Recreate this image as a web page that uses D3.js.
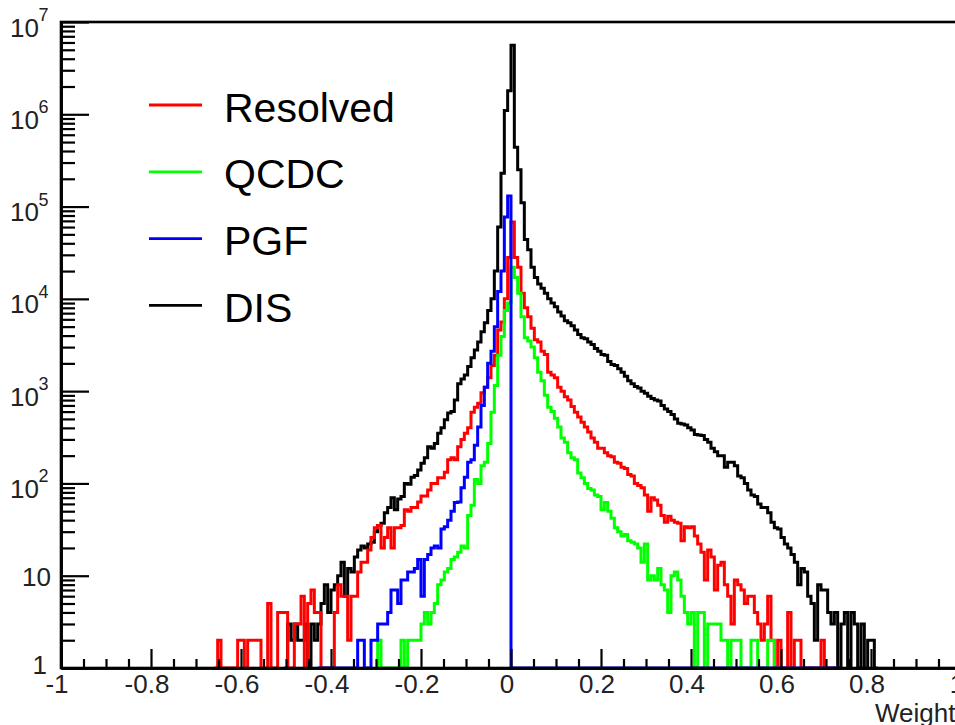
<!DOCTYPE html>
<html><head><meta charset="utf-8">
<script src="https://cdn.jsdelivr.net/npm/d3@7"></script>
<style>body{margin:0;background:#fff}svg{display:block}</style>
</head><body>
<svg id="c" width="955" height="725"></svg>
<script>
// ---------- data ----------
const binStart = -1;
const binWidth = 2 / 270;
const seriesNames = ["Resolved", "QCDC", "PGF", "DIS"];

const disFirstBin = 67;
const disCounts = [1,3,2,3,2,2,3,1,3,2,
 3,5,8,4,7,8,10,14,6,12,
 11,16,19,21,20,22,23,30,35,37,
 48,55,70,52,68,72,100,98,117,122,
 140,165,190,250,240,270,350,400,490,580,
 600,800,1200,1350,1500,1850,2300,2800,3400,4400,
 5500,7500,10000,20000,60000,230000,1100000,1800000,5600000,440000,
 250000,110000,44000,34000,22000,17000,14500,13000,11500,10000,
 9000,8200,7200,6500,5800,5500,5100,4600,4100,3800,
 3700,3400,3200,2900,2700,2500,2450,2100,1950,1900,
 1750,1600,1450,1300,1200,1120,1080,1000,950,880,
 830,800,780,700,640,600,560,500,450,440,
 430,400,380,340,335,330,300,280,240,220,
 200,200,150,170,170,155,120,115,100,85,
 75,72,60,55,55,48,38,33,32,26,
 22,20,17,14,8,12,11,6,5,2,
 8,7,7,4,3,4,0,3,4,0,
 4,3,0,3,0,2,2,1];

const resolvedFirstBin = 46;
const resolvedCounts = [0,2,0,0,0,0,0,2,2,0,
 2,2,2,2,0,0,5,0,0,4,
 4,4,0,0,3,3,6,0,5,7,
 4,4,0,1,0,1,4,8,6,6,
 2,6,6,11,14,14,19,26,33,35,
 20,26,33,20,33,33,35,52,50,55,
 55,63,73,73,85,100,100,115,115,132,
 180,190,180,250,300,350,400,590,670,740,
 960,1100,1400,1900,2450,4600,5600,10000,28000,68000,
 28000,22000,11500,8000,6400,4800,3600,3400,2700,2500,
 1600,1500,1400,1100,1000,870,800,680,590,525,
 460,410,360,310,280,240,240,215,200,195,
 170,165,150,145,125,120,100,95,90,75,
 50,70,66,58,45,38,44,40,38,37,
 24,34,33,34,27,22,18,9,19,16,
 7,13,14,8,6,3,9,8,7,5,
 6,6,4,3,2,3,6,2,0,2,
 0,0,4,0,2,2,0,0,0,0,
 0,0,2,0,0,0,0];

const qcdcFirstBin = 95;
const qcdcCounts = [2,0,0,0,0,0,0,2,0,2,
 2,2,2,3,4,3,4,5,8,9,
 11,12,15,16,18,21,20,45,58,110,
 100,155,170,270,590,1150,2450,3900,7500,9000,
 22000,17000,11500,6400,3800,3500,3000,2300,1600,1300,
 900,670,600,510,410,310,280,215,190,180,
 130,115,100,88,85,75,72,52,62,50,
 42,33,30,27,28,24,23,22,20,14,
 22,9,10,9,12,8,7,4,10,11,
 9,6,4,3,4,0,4,4,0,3,
 3,3,3,2,2,0,2,2,2,0,
 0,0,2,2,0,0,0,2,2,0,
 0];

const pgfFirstBin = 77;
const pgfLastBin = 232;
const pgfCounts = [0,0,0,0,0,0,0,0,0,0,
 0,0,2,2,0,0,2,2,3,3,
 3,4,7,7,5,9,9,11,11,12,
 15,6,15,17,20,21,20,32,34,40,
 50,62,63,90,117,170,180,260,410,700,
 1100,2000,2700,5000,12000,20000,77000,130000];

const xTickValues = [-1,-0.8,-0.6,-0.4,-0.2,0,0.2,0.4,0.6,0.8,1];
const xTickLabels = ["-1","-0.8","-0.6","-0.4","-0.2","0","0.2","0.4","0.6","0.8","1"];
const yTickExponents = [0,1,2,3,4,5,6,7];
const xAxisTitle = "Weight";

// ---------- layout ----------
const svg = d3.select("#c");
const FL = 61, FR = 961, FT = 22, FB = 668;
const x = d3.scaleLinear().domain([-1, 1]).range([FL, FR]);
const y = d3.scaleLog().domain([1, 1e7]).range([FB, FT]);
const font = "'Liberation Sans', Arial, Helvetica, sans-serif";

// histograms
function histPath(first, counts, last) {
  const vals = counts.slice();
  if (last !== undefined) while (first + vals.length - 1 < last) vals.push(0);
  const edge = i => x(binStart + i * binWidth);
  let d = "M" + edge(first) + "," + y(1);
  vals.forEach((v, i) => {
    const yy = y(Math.max(v, 1));
    d += "L" + edge(first + i) + "," + yy + "L" + edge(first + i + 1) + "," + yy;
  });
  d += "L" + edge(first + vals.length) + "," + y(1);
  return d;
}
const hists = [
  {first: disFirstBin, counts: disCounts, color: "#000000"},
  {first: resolvedFirstBin, counts: resolvedCounts, color: "#ff0000"},
  {first: qcdcFirstBin, counts: qcdcCounts, color: "#00ff00"},
  {first: pgfFirstBin, counts: pgfCounts, last: pgfLastBin, color: "#0000ff"}
];
hists.forEach(h => {
  svg.append("path").attr("d", histPath(h.first, h.counts, h.last))
    .attr("fill", "none").attr("stroke", h.color).attr("stroke-width", 3)
    .attr("stroke-linejoin", "miter");
});

// frame
svg.append("rect").attr("x", FL).attr("y", FT).attr("width", FR - FL).attr("height", FB - FT)
  .attr("fill", "none").attr("stroke", "#000").attr("stroke-width", 2.6);

// x axis ticks
const xMinor = d3.range(0, 41).map(i => -1 + i * 0.05).filter(v => Math.abs((v + 1) / 0.2 - Math.round((v + 1) / 0.2)) > 1e-6);
const gx = svg.append("g").attr("transform", `translate(0,${FB})`);
gx.append("g").call(d3.axisBottom(x).tickValues(xMinor).tickSize(-9).tickSizeOuter(0).tickFormat(""));
gx.append("g").call(d3.axisBottom(x).tickValues(xTickValues).tickSize(-19).tickSizeOuter(0).tickFormat(""));
gx.selectAll("path.domain").attr("stroke-width", 2.6);
gx.selectAll(".tick line").attr("stroke-width", 2.2);

// y axis ticks
const yMinor = [];
yTickExponents.slice(0, -1).forEach(e => { for (let m = 2; m <= 9; m++) yMinor.push(m * Math.pow(10, e)); });
const yMajor = yTickExponents.map(e => Math.pow(10, e));
const gy = svg.append("g").attr("transform", `translate(${FL},0)`);
gy.append("g").call(d3.axisLeft(y).tickValues(yMinor).tickSize(-14).tickSizeOuter(0).tickFormat(""));
gy.append("g").call(d3.axisLeft(y).tickValues(yMajor).tickSize(-28).tickSizeOuter(0).tickFormat(""));
gy.selectAll("path.domain").attr("stroke-width", 2.6);
gy.selectAll(".tick line").attr("stroke-width", 2.2);

// x labels
svg.append("g").selectAll("text").data(xTickValues).join("text")
  .attr("x", d => x(d) - 4).attr("y", 693).attr("text-anchor", "middle")
  .attr("font-family", font).attr("font-size", 26).attr("fill", "#222")
  .text((d, i) => xTickLabels[i]);

// y labels
const gyl = svg.append("g").attr("font-family", font).attr("fill", "#222");
yTickExponents.forEach(e => {
  const ty = y(Math.pow(10, e));
  if (e === 0) {
    gyl.append("text").attr("x", 47).attr("y", ty + 6).attr("text-anchor", "end").attr("font-size", 26).text("1");
  } else if (e === 1) {
    gyl.append("text").attr("x", 51).attr("y", ty + 10).attr("text-anchor", "end").attr("font-size", 26).text("10");
  } else {
    gyl.append("text").attr("x", 39).attr("y", ty + 14.5).attr("text-anchor", "end").attr("font-size", 26).text("10");
    gyl.append("text").attr("x", 38.5).attr("y", ty - 1).attr("text-anchor", "start").attr("font-size", 18).text(String(e));
  }
});

// axis title
svg.append("text").attr("x", 875).attr("y", 722).attr("font-family", font).attr("font-size", 26)
  .attr("fill", "#222").text(xAxisTitle);

// legend
const legendColors = ["#ff0000", "#00ff00", "#0000ff", "#000000"];
const lg = svg.append("g");
seriesNames.forEach((n, i) => {
  const base = 121.5 + i * 66.8;
  lg.append("line").attr("x1", 149).attr("x2", 202).attr("y1", base - 16.5).attr("y2", base - 16.5)
    .attr("stroke", legendColors[i]).attr("stroke-width", 2.8);
  lg.append("text").attr("x", 224).attr("y", base).attr("font-family", font).attr("font-size", 41)
    .attr("fill", "#000").text(n);
});
</script>
</body></html>
